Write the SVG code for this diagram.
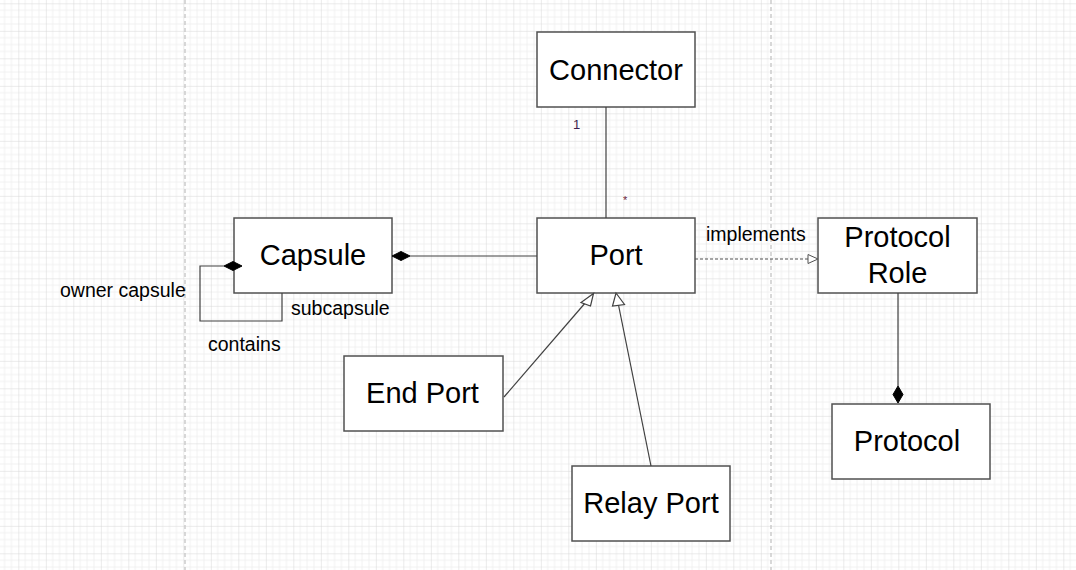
<svg xmlns="http://www.w3.org/2000/svg" width="1076" height="570" viewBox="0 0 1076 570">
<style>
.box{fill:#ffffff;stroke:#505050;stroke-width:1.5}
.t{font-family:"Liberation Sans",Arial,sans-serif;font-size:29px;fill:#000;text-anchor:middle}
.lbl{font-family:"Liberation Sans",Arial,sans-serif;font-size:19.5px;fill:#000}
.ln{fill:none;stroke:#404040;stroke-width:1.2}
.page{stroke:#cccccc;stroke-width:1.5;stroke-dasharray:4 3}
</style>
<defs>
<pattern id="grid" patternUnits="userSpaceOnUse" x="18.33" y="3.33" width="27.5" height="27.5">
<path d="M6.875 0V27.5M13.75 0V27.5M20.625 0V27.5M0 6.875H27.5M0 13.75H27.5M0 20.625H27.5" stroke="#f1f1f1" stroke-width="1" fill="none"/>
<path d="M0 0V27.5M0 0H27.5" stroke="#d6d6d6" stroke-width="1" fill="none"/>
</pattern>
</defs>
<rect width="1076" height="570" fill="#ffffff"/>
<rect width="1076" height="570" fill="url(#grid)"/>
<line class="page" x1="185" y1="0" x2="185" y2="570"/>
<line class="page" x1="771" y1="0" x2="771" y2="570"/>

<g id="connector">
<rect class="box" x="537" y="32" width="158" height="75"/>
<text class="t" x="616" y="80">Connector</text>
</g>
<g id="capsule">
<rect class="box" x="234" y="218" width="158" height="75"/>
<text class="t" x="313" y="265">Capsule</text>
</g>
<g id="port">
<rect class="box" x="537" y="218" width="158" height="75"/>
<text class="t" x="616" y="265">Port</text>
</g>
<g id="protocol-role">
<rect class="box" x="818" y="218" width="159" height="75"/>
<text class="t" x="897.5" y="247">Protocol</text>
<text class="t" x="897.5" y="283">Role</text>
</g>
<g id="end-port">
<rect class="box" x="344" y="356" width="159" height="75"/>
<text class="t" x="422.5" y="403">End Port</text>
</g>
<g id="relay-port">
<rect class="box" x="572" y="466" width="158" height="75"/>
<text class="t" x="651" y="513">Relay Port</text>
</g>
<g id="protocol">
<rect class="box" x="832" y="404" width="158" height="75"/>
<text class="t" x="907" y="451">Protocol</text>
</g>

<g id="connectors">
<line class="ln" x1="606" y1="107" x2="606" y2="218"/>
<text x="573" y="129" font-family="Liberation Sans,Arial,sans-serif" font-size="13" fill="#3c1f4f">1</text>
<text x="623" y="204" font-family="Liberation Sans,Arial,sans-serif" font-size="11" fill="#6a1a3a">*</text>
<line class="ln" x1="410" y1="256" x2="537" y2="256"/>
<path d="M392 256L401 251.5L410 256L401 260.5Z" fill="#000" stroke="#000" stroke-width="1"/>
<path class="ln" d="M282 293V321H200V266H224"/>
<path d="M224 266L233 261.5L242 266L233 270.5Z" fill="#000" stroke="#000" stroke-width="1"/>
<text class="lbl" x="60" y="297">owner capsule</text>
<text class="lbl" x="291" y="315">subcapsule</text>
<text class="lbl" x="208" y="351">contains</text>
<line x1="695" y1="259" x2="808" y2="259" stroke="#505050" stroke-width="1.2" stroke-dasharray="3 2"/>
<path d="M808 254.5L818 259L808 263.5Z" fill="#fff" stroke="#505050" stroke-width="1"/>
<text class="lbl" x="706" y="241">implements</text>
<line class="ln" x1="504" y1="397" x2="586" y2="302"/>
<path d="M593.5 293.5L590.5 306L581 302.5Z" fill="#fff" stroke="#404040" stroke-width="1.2"/>
<line class="ln" x1="651" y1="466" x2="618.5" y2="305"/>
<path d="M616 293L624.5 304.5L612.5 306Z" fill="#fff" stroke="#404040" stroke-width="1.2"/>
<line class="ln" x1="898" y1="293" x2="898" y2="386"/>
<path d="M898 386L903 394.5L898 403L893 394.5Z" fill="#000" stroke="#000" stroke-width="1"/>
</g>
</svg>
